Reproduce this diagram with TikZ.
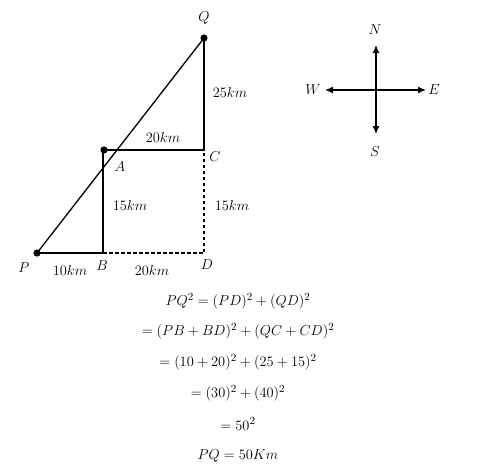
\documentclass[tikz,border=0pt]{standalone}
\usepackage{amsmath}
\usetikzlibrary{arrows.meta}

\tikzset{
  seg/.style={line width=1.3pt},
  dseg/.style={line width=1.3pt, dash pattern=on 3.5pt off 2.5pt},
  lbl/.style={font=\fontsize{15}{17}\selectfont, inner sep=0pt},
  eqn/.style={font=\fontsize{15}{17}\selectfont, inner sep=0pt},
  compass/.style={line width=1.3pt, -{Latex[length=8pt,width=7pt]}}
}

\begin{document}
\begin{tikzpicture}[x=1pt, y=-1pt]
  \useasboundingbox (0,0) rectangle (499,475);
  % points of the route
  \coordinate (P) at (37,253);
  \coordinate (B) at (103,253);
  \coordinate (D) at (204,253);
  \coordinate (C) at (204,150);
  \coordinate (Q) at (204,38);
  \coordinate (Adot) at (104,150);
  \coordinate (Atop) at (103,150);
  \draw[seg] (P) -- (Q);
  \draw[seg] (P) -- (B) -- (Atop);
  \draw[seg] (Adot) -- (C) -- (Q);
  \draw[dseg] (B) -- (D) -- (C);
  \fill (P) circle (3.6pt);
  \fill (Q) circle (3.6pt);
  \fill (Adot) circle (3.6pt);
  % labels
  \node[lbl] (lQ) at (204,18) {$Q$};
  \node[lbl] (lQC) at (230,92) {$25km$};
  \node[lbl] (lAC) at (163,137) {$20km$};
  \node[lbl] (lC) at (215,157) {$C$};
  \node[lbl] (lA) at (120,167) {$A$};
  \node[lbl] (lAB) at (130,205) {$15km$};
  \node[lbl] (lCD) at (232,205) {$15km$};
  \node[lbl] (lP) at (24,268) {$P$};
  \node[lbl] (lPB) at (70,270) {$10km$};
  \node[lbl] (lB) at (102,266) {$B$};
  \node[lbl] (lBD) at (152,270) {$20km$};
  \node[lbl] (lD) at (207,265) {$D$};
  % compass
  \coordinate (O) at (376,90);
  \node[lbl] (N) at (375,30) {$N$};
  \node[lbl] (S) at (375,152) {$S$};
  \node[lbl] (W) at (313,90) {$W$};
  \node[lbl] (E) at (434,90) {$E$};
  \coordinate (tN) at (376,45);
  \coordinate (tS) at (376,134);
  \coordinate (tW) at (325,90);
  \coordinate (tE) at (426,90);
  \draw[compass] (O) -- (tN);
  \draw[compass] (O) -- (tS);
  \draw[compass] (O) -- (tW);
  \draw[compass] (O) -- (tE);
  % working
  \node[eqn] (e1) at (238,301) {$PQ^2=(PD)^2+(QD)^2$};
  \node[eqn] (e2) at (238,331) {$=(PB+BD)^2+(QC+CD)^2$};
  \node[eqn] (e3) at (238,362) {$=(10+20)^2+(25+15)^2$};
  \node[eqn] (e4) at (238,393) {$=(30)^2+(40)^2$};
  \node[eqn] (e5) at (238,424) {$=50^2$};
  \node[eqn] (e6) at (238,456) {$PQ=50Km$};
\end{tikzpicture}
\end{document}
